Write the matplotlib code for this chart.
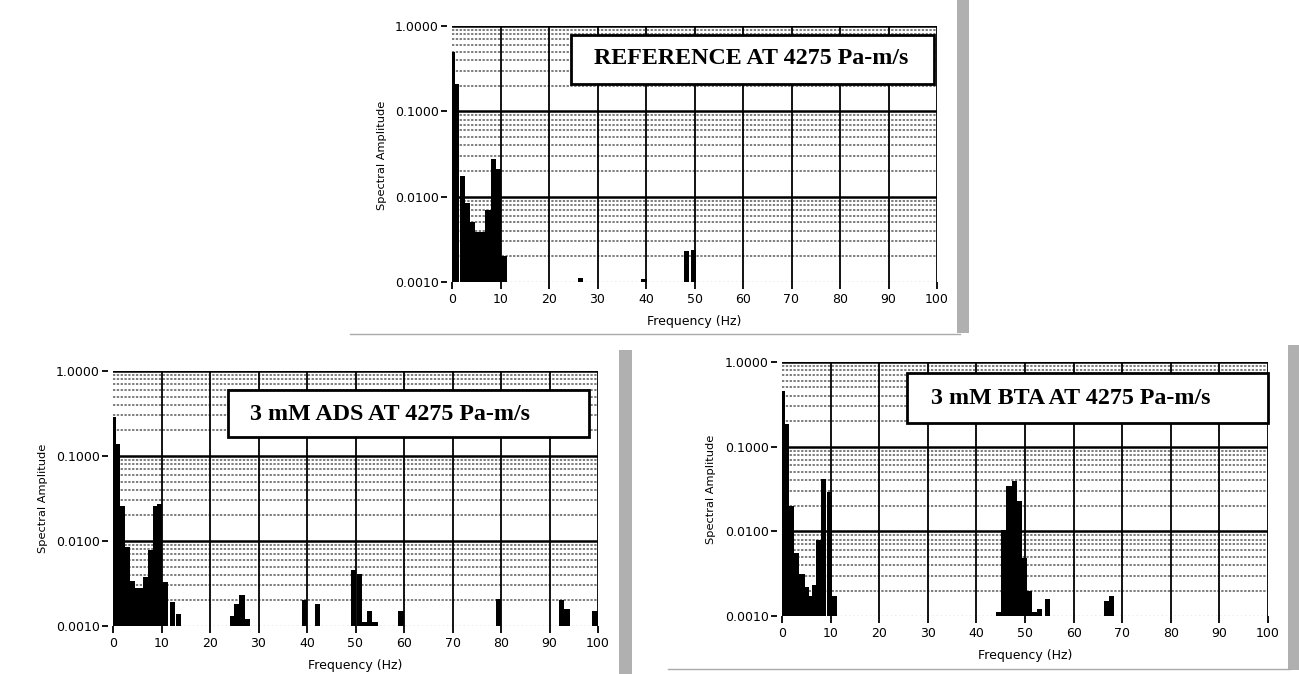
import numpy as np
import matplotlib.pyplot as plt
from matplotlib.patches import Rectangle
from matplotlib.lines import Line2D

W, H = 1299, 674

# spectral bins (Hz) and amplitudes
ref_freq = [0.0, 0.9, 2.1, 3.1, 4.1, 5.2, 6.4, 7.4, 8.5, 9.6, 10.7,
            26.5, 39.6, 48.3, 49.8]
ref_amp = [0.50, 0.21, 0.0175, 0.0085, 0.0051, 0.0039, 0.0039, 0.0069,
           0.028, 0.021, 0.0020, 0.0011, 0.00108, 0.0023, 0.0024]

ads_freq = [0.0, 0.9, 1.9, 2.9, 4.0, 5.0, 5.9, 6.7, 7.7, 8.7, 9.6, 10.7,
            12.2, 13.5, 24.6, 25.6, 26.6, 27.6, 39.5, 42.2,
            49.6, 50.8, 51.9, 52.9, 54.0, 59.4, 79.5, 92.5, 93.6, 99.4]
ads_amp = [0.29, 0.14, 0.026, 0.0084, 0.0034, 0.0028, 0.0028, 0.0038,
           0.0079, 0.026, 0.027, 0.0033, 0.0019, 0.0014, 0.0013, 0.0018,
           0.0023, 0.0012, 0.0020, 0.0018, 0.0046, 0.0041, 0.0011, 0.0015,
           0.0011, 0.0015, 0.0021, 0.0020, 0.0016, 0.0015]

bta_freq = [0.0, 0.95, 1.95, 2.9, 4.1, 5.1, 5.9, 6.75, 7.6, 8.6, 9.75, 10.8,
            44.6, 45.6, 46.7, 47.8, 48.8, 49.8, 50.9, 52.0, 53.0, 54.6,
            66.8, 67.8]
bta_amp = [0.46, 0.187, 0.020, 0.0056, 0.0031, 0.0022, 0.0017, 0.0023,
           0.0078, 0.042, 0.029, 0.0017, 0.0011, 0.0105, 0.034, 0.039,
           0.023, 0.0049, 0.0020, 0.0011, 0.0012, 0.0016, 0.0015, 0.0017]

xticks = list(range(0, 101, 10))
yticks = [0.001, 0.01, 0.1, 1.0]
ytick_labels = ['0.0010', '0.0100', '0.1000', '1.0000']


def fx(x):
    return x / W


def fy(y):
    return 1 - y / H


fig = plt.figure(figsize=(W / 100, H / 100), dpi=100)
fig.patch.set_facecolor('white')


def panel(box_px, freq, amp, title, title_box, title_xy, ylab_xy, xlab_xy):
    l, t, r, b = box_px
    ax = fig.add_axes([fx(l), fy(b), (r - l) / W, (b - t) / H])
    ax.set_yscale('log')
    ax.set_xlim(0, 100)
    ax.set_ylim(0.001, 1.0)

    # grid
    for d in [0.001, 0.01, 0.1]:
        for m in range(2, 10):
            ax.axhline(d * m, color='#5a5a5a', lw=1.1, ls=(0, (1.5, 1)), zorder=0)
    for v in [0.01, 0.1, 1.0]:
        ax.axhline(v, color='black', lw=1.8, zorder=0)
    ax.axhline(0.001, color='#999999', lw=1.0, ls=(0, (1, 2)), zorder=0)
    for f in xticks[1:]:
        ax.axvline(f, color='black', lw=1.3, zorder=0)

    ax.bar(freq, amp, width=1.1, color='black', linewidth=0, zorder=2)

    for s in ax.spines.values():
        s.set_visible(False)
    ax.spines['left'].set_position(('outward', 3.6))
    ax.set_xticks(xticks)
    ax.set_xticklabels([str(v) for v in xticks])
    ax.set_yticks(yticks)
    ax.set_yticklabels(ytick_labels)
    ax.yaxis.set_minor_locator(plt.NullLocator())
    ax.tick_params(axis='x', direction='out', length=5, width=1.3, pad=3,
                   labelsize=9)
    ax.tick_params(axis='y', direction='out', length=4, width=1.3, pad=2,
                   labelsize=9)

    fig.text(fx(ylab_xy[0]), fy(ylab_xy[1]), 'Spectral Amplitude', rotation=90,
             ha='center', va='center', fontsize=8.2)
    fig.text(fx(xlab_xy[0]), fy(xlab_xy[1]), 'Frequency (Hz)',
             ha='center', va='center', fontsize=9)

    bl, bt, br, bb = title_box
    fig.add_artist(Rectangle((fx(bl), fy(bb)), (br - bl) / W, (bb - bt) / H,
                             transform=fig.transFigure, facecolor='white',
                             edgecolor='black', lw=2.0, zorder=5))
    fig.text(fx(title_xy[0]), fy(title_xy[1]), title, ha='center', va='center',
             fontfamily='Liberation Serif', fontweight='bold', fontsize=17.3,
             zorder=6)
    return ax


panel((452, 26, 937, 282), ref_freq, ref_amp, 'REFERENCE AT 4275 Pa-m/s',
      (571, 35, 934, 84), (751, 59), (382, 155), (694, 321))
panel((113, 371, 598, 626), ads_freq, ads_amp, '3 mM ADS AT 4275 Pa-m/s',
      (228, 390, 589, 437), (390, 415), (43, 498), (355, 666))
panel((782, 362, 1268, 616), bta_freq, bta_amp, '3 mM BTA AT 4275 Pa-m/s',
      (907, 373, 1268, 423), (1071, 399), (711, 489), (1025, 656))

# scanned panel borders
for (l, t, r, b) in [(957, 0, 969, 333), (619, 350, 632, 674), (1288, 345, 1299, 670)]:
    fig.add_artist(Rectangle((fx(l), fy(b)), (r - l) / W, (b - t) / H,
                             transform=fig.transFigure, facecolor='#b0b0b0',
                             edgecolor='none'))
fig.add_artist(Line2D([fx(350), fx(960)], [fy(334), fy(334)],
                      transform=fig.transFigure, color='#aaaaaa', lw=1))
fig.add_artist(Line2D([fx(668), fx(1290)], [fy(669), fy(669)],
                      transform=fig.transFigure, color='#aaaaaa', lw=1))

fig.savefig('out.png', dpi=100, facecolor='white')
